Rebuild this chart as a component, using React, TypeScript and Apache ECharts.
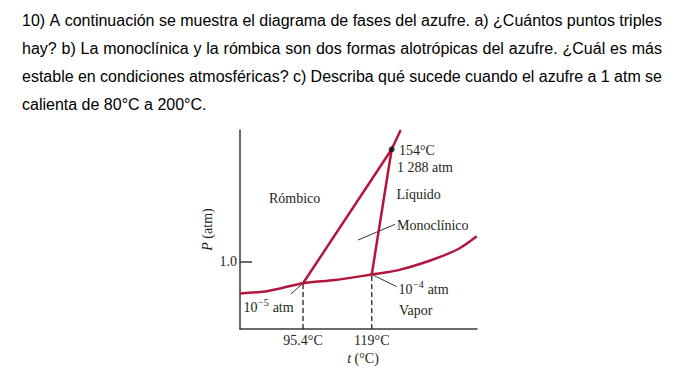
import React, { useEffect, useRef } from "react";
import * as echarts from "echarts";

// Question text (one entry per printed line)
const paragraphLines = [
  "10) A continuación se muestra el diagrama de fases del azufre. a) ¿Cuántos puntos triples",
  "hay? b) La monoclínica y la rómbica son dos formas alotrópicas del azufre. ¿Cuál es más",
  "estable en condiciones atmosféricas? c) Describa qué sucede cuando el azufre a 1 atm se",
  "calienta de 80°C a 200°C.",
];
const paragraphJustified = [true, true, true, false];

// Schematic phase diagram (axis units 0..100 on both axes)
const vaporCurve: number[][] = [
  [0, 17.9], [11.9, 19.1], [26.6, 23.0], [40.1, 24.6], [55.6, 27.4],
  [66.8, 29.6], [80.9, 34.7], [92.1, 40.2], [99.9, 46.6],
];
const rhombicMonoclinic: number[][] = [[26.6, 23.0], [64.0, 90.3]];
const monoclinicLiquid: number[][] = [[55.6, 27.4], [64.0, 90.3]];
const rhombicLiquid: number[][] = [[64.0, 90.3], [67.8, 100]];
const triplePoint1Drop: number[][] = [[26.6, 0], [26.6, 23.0]];
const triplePoint2Drop: number[][] = [[55.6, 0], [55.6, 27.4]];
const leaderMonoclinic: number[][] = [[49.8, 44.7], [65.4, 52.6]];
const leader1e4: number[][] = [[55.6, 27.4], [66.1, 21.3]];
const leader1e5: number[][] = [[26.6, 23.0], [21.5, 17.6]];
const topTriplePoint: number[][] = [[64.0, 90.3]];

const xTickValues = [26.6, 55.6];
const xTickLabels = ["95.4°C", "119°C"];
const yTickValues = [33.7];
const yTickLabels = ["1.0"];

const CRIMSON = "#b2163f";
const INK = "#231f20";
const SERIF = "'Liberation Serif', 'Times New Roman', serif";
const SANS = "'Liberation Sans', Arial, sans-serif";

export default function App() {
  const ref = useRef<HTMLDivElement>(null);
  useEffect(() => {
    if (!ref.current) return;
    const chart = echarts.init(ref.current, undefined, { renderer: "svg" });

    const canvas = document.createElement("canvas");
    const ctx = canvas.getContext("2d")!;

    // paragraph, justified word by word
    ctx.font = "16px 'Liberation Sans'";
    const parLeft = 22;
    const parWidth = 640;
    const lineY = [20, 48.3, 76.5, 104.7];
    const graphics: any[] = [];
    paragraphLines.forEach((line, li) => {
      const words = line.split(" ");
      const widths = words.map((w) => ctx.measureText(w).width);
      const total = widths.reduce((a, b) => a + b, 0);
      const gap = paragraphJustified[li]
        ? (parWidth - total) / (words.length - 1)
        : ctx.measureText(" ").width;
      let x = parLeft;
      words.forEach((w, wi) => {
        graphics.push({
          type: "text",
          x,
          y: lineY[li],
          style: {
            text: w,
            fontSize: 16,
            fontFamily: SANS,
            fill: "#000",
            align: "left",
            verticalAlign: "middle",
            textAlign: "left",
            textVerticalAlign: "middle",
          },
        });
        x += widths[wi] + gap;
      });
    });

    const label = (text: string, x: number, y: number, size = 14) => ({
      type: "text",
      x,
      y,
      z: 10,
      style: {
        text,
        fontSize: size,
        fontFamily: SERIF,
        fill: INK,
        align: "left",
        verticalAlign: "middle",
        textAlign: "left",
        textVerticalAlign: "middle",
      },
    });
    const powerLabel = (exp: string, x: number, y: number) => {
      ctx.font = "14px 'Liberation Serif'";
      const w10 = ctx.measureText("10").width;
      ctx.font = "10px 'Liberation Serif'";
      const wExp = ctx.measureText(exp).width;
      ctx.font = "14px 'Liberation Serif'";
      const wSp = ctx.measureText(" ").width;
      graphics.push(label("10", x, y));
      graphics.push(label(exp, x + w10 + 0.5, y - 5, 10));
      graphics.push(label("atm", x + w10 + 0.5 + wExp + wSp + 0.5, y));
    };
    graphics.push(label("154°C", 399, 150.5));
    graphics.push(label("1 288 atm", 397, 167.7));
    graphics.push(label("Rómbico", 269, 198));
    graphics.push(label("Líquido", 396.5, 194.5));
    graphics.push(label("Monoclínico", 397, 225.5));
    powerLabel("−4", 398.5, 289);
    graphics.push(label("Vapor", 399, 310));
    powerLabel("−5", 243.5, 307.5);

    const lineSeries = (data: number[][], color: string, width: number, type: any = "solid", smooth: any = false) => ({
      type: "line",
      data,
      symbol: "none",
      smooth,
      silent: true,
      lineStyle: { color, width, type },
    });

    chart.setOption({
      animation: false,
      grid: { left: 240, top: 130, width: 237, height: 199 },
      xAxis: {
        type: "value",
        min: 0,
        max: 100,
        name: "{i|t} (°C)",
        nameLocation: "middle",
        nameGap: 21,
        nameTextStyle: {
          fontSize: 14,
          fontFamily: SERIF,
          color: INK,
          padding: [0, 0, 0, 9],
          rich: { i: { fontStyle: "italic", fontSize: 14, fontFamily: SERIF, color: INK } },
        },
        axisLine: { show: true, lineStyle: { color: "#3a3a3a", width: 1.5 } },
        axisTick: { show: false },
        splitLine: { show: false },
        axisLabel: {
          customValues: xTickValues,
          formatter: (v: number) => xTickLabels[xTickValues.indexOf(v)] ?? "",
          margin: 4,
          fontSize: 14,
          fontFamily: SERIF,
          color: INK,
        },
      },
      yAxis: {
        type: "value",
        min: 0,
        max: 100,
        name: "{i|P} (atm)",
        nameLocation: "middle",
        nameGap: 26,
        nameTextStyle: {
          fontSize: 14,
          fontFamily: SERIF,
          color: INK,
          rich: { i: { fontStyle: "italic", fontSize: 14, fontFamily: SERIF, color: INK } },
        },
        axisLine: { show: true, lineStyle: { color: "#3a3a3a", width: 1.5 } },
        axisTick: {
          show: true,
          inside: true,
          length: 12,
          customValues: yTickValues,
          lineStyle: { color: "#3a3a3a", width: 1.5 },
        },
        splitLine: { show: false },
        axisLabel: {
          customValues: yTickValues,
          formatter: (v: number) => yTickLabels[yTickValues.indexOf(v)] ?? "",
          margin: 3,
          fontSize: 14,
          fontFamily: SERIF,
          color: INK,
        },
      },
      series: [
        lineSeries(triplePoint1Drop, "#222", 1.3, [5, 3]),
        lineSeries(triplePoint2Drop, "#222", 1.3, [5, 3]),
        lineSeries(leaderMonoclinic, "#333", 1),
        lineSeries(leader1e4, "#333", 1),
        lineSeries(leader1e5, "#333", 1),
        lineSeries(vaporCurve, CRIMSON, 2.5, "solid", 0.3),
        lineSeries(rhombicMonoclinic, CRIMSON, 2.5),
        lineSeries(monoclinicLiquid, CRIMSON, 2.5),
        lineSeries(rhombicLiquid, CRIMSON, 2.5),
        {
          type: "scatter",
          data: topTriplePoint,
          symbolSize: 6,
          itemStyle: { color: "#111" },
          z: 5,
          silent: true,
        },
      ],
      graphic: graphics,
    });
    return () => chart.dispose();
  }, []);
  return (
    <div
      ref={ref}
      style={{ position: "fixed", left: 0, top: 0, width: 693, height: 372, background: "#fff" }}
    />
  );
}
